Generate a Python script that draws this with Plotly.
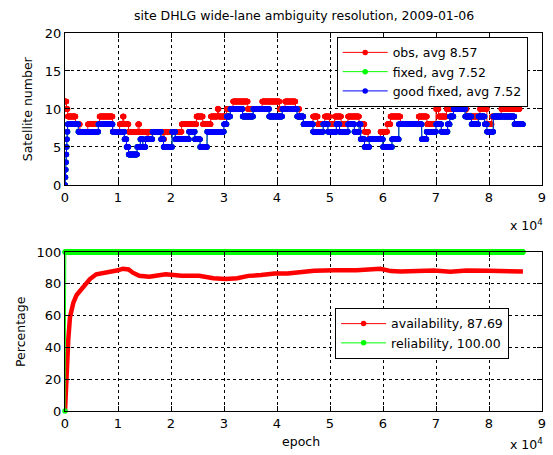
import numpy as np
import plotly.graph_objects as go

# ---------------- data ----------------
# epochs in seconds; step-wise satellite counts given at change points
obs_t = [0, 300, 500, 2000, 2800, 4300, 6500, 9000, 10300, 10900,
         11100, 12000, 13800, 14000, 15500, 15700, 18500, 18700, 22000, 24800,
         26000, 27500, 28800, 29000, 30500, 31700, 34500, 37200, 40500, 41500,
         43500, 44200, 45000, 46800, 47700, 49000, 49900, 50900, 52100, 53400,
         55500, 56500, 57200, 59500, 60800, 61400, 63300, 66700, 68300, 70000,
         70500, 72000, 75800, 78300, 79600, 80500, 82300, 85800]
obs_v = [11, 10, 9, 8, 7, 8, 9, 7, 8, 9,
         8, 7, 8, 7, 6, 7, 6, 7, 8, 9,
         8, 9, 10, 9, 10, 11, 10, 11, 10, 11,
         10, 9, 8, 9, 8, 9, 8, 9, 8, 9,
         8, 7, 6, 7, 8, 9, 8, 9, 8, 10,
         9, 10, 9, 10, 8, 9, 10, 11]

good_t = [0, 60, 120, 180, 240, 300, 360, 420, 500, 2500,
          6300, 9000, 11200, 11600, 12000, 13600, 14200, 14700, 15200, 16500,
          18100, 18600, 20200, 20800, 23400, 24500, 25500, 26800, 30000, 30500,
          31200, 33500, 35500, 38500, 41000, 43800, 45000, 46800, 48700, 49600,
          51200, 51800, 53400, 54600, 55500, 55800, 56500, 57400, 60000, 61700,
          63000, 67300, 68200, 70000, 71000, 72200, 72600, 73300, 75500, 76700,
          78000, 79200, 79600, 80800, 84800]
good_v = [0, 1, 2, 3, 4, 5, 6, 7, 8, 7,
          8, 7, 6, 5, 4, 5, 6, 5, 6, 7,
          6, 5, 7, 6, 7, 6, 5, 7, 8, 9,
          10, 9, 10, 9, 10, 9, 8, 7, 8, 7,
          8, 7, 8, 7, 8, 6, 5, 6, 5, 6,
          8, 6, 7, 8, 7, 8, 9, 10, 9, 8,
          9, 8, 7, 9, 8]
# fixed == good fixed for this site
fixed_t = list(good_t)
fixed_v = list(good_v)

avail_t = [0, 150, 300, 620, 940, 1560, 2200, 3400, 4700, 5900,
           7800, 10000, 10900, 12000, 12800, 14000, 15900, 19000, 22000, 25300,
           28000, 30300, 32500, 34600, 37000, 39600, 42000, 44500, 47000, 50800,
           55000, 59500, 61500, 63300, 66000, 69600, 72700, 73500, 75800, 80000,
           86400]
avail_v = [0, 12, 28, 45, 59, 68, 73, 78, 83, 86,
           87, 88.5, 89.5, 89, 87, 85, 84.5, 86, 85, 85,
           83.5, 83, 83.5, 85, 85.5, 86.5, 86.5, 87.5, 88.2, 88.6,
           88.5, 89.5, 88, 87.8, 88.2, 88.4, 87.6, 87.8, 88.4, 88.2,
           87.7]

rel_first = 0
rel_value = 100

last_epoch = 86400
sample_step = 30

legend_top = ["obs, avg 8.57", "fixed, avg 7.52", "good fixed, avg 7.52"]
legend_bot = ["availability, 87.69", "reliability, 100.00"]
xtick_vals = [0, 10000, 20000, 30000, 40000, 50000, 60000, 70000, 80000, 90000]
xtick_text = ["0", "1", "2", "3", "4", "5", "6", "7", "8", "9"]
title_text = "site DHLG wide-lane ambiguity resolution, 2009-01-06"

# ---------------- build ----------------
epochs = np.arange(0, last_epoch + 1, sample_step)


def expand(t, v):
    idx = np.searchsorted(np.array(t), epochs, side="right") - 1
    return np.array(v)[idx]


RED = "rgb(255,0,0)"
GREEN = "rgb(0,255,0)"
BLUE = "rgb(0,0,255)"
FONT = "DejaVu Sans, Verdana, sans-serif"
FS = 12.5

fig = go.Figure()

for name, t, v, col in [(legend_top[0], obs_t, obs_v, RED),
                        (legend_top[1], fixed_t, fixed_v, GREEN),
                        (legend_top[2], good_t, good_v, BLUE)]:
    fig.add_trace(go.Scatter(
        x=epochs, y=expand(t, v), mode="lines+markers", name=name,
        line=dict(color=col, width=1), marker=dict(color=col, size=5.5),
        xaxis="x", yaxis="y", legend="legend", cliponaxis=True))

# availability: thick curve + legend proxy
fig.add_trace(go.Scatter(
    x=avail_t, y=avail_v, mode="lines", showlegend=False,
    line=dict(color=RED, width=4.5), xaxis="x2", yaxis="y2"))
fig.add_trace(go.Scatter(
    x=[None], y=[None], mode="lines+markers", name=legend_bot[0],
    line=dict(color=RED, width=1), marker=dict(color=RED, size=5.5),
    xaxis="x2", yaxis="y2", legend="legend2"))

rel_y = np.full(epochs.shape, float(rel_value))
rel_y[0] = rel_first
fig.add_trace(go.Scatter(
    x=epochs, y=rel_y, mode="lines+markers", name=legend_bot[1],
    line=dict(color=GREEN, width=1), marker=dict(color=GREEN, size=5.5),
    xaxis="x2", yaxis="y2", legend="legend2", cliponaxis=False))

axis_common = dict(
    showline=True, linecolor="black", linewidth=1, mirror="ticks",
    ticks="inside", ticklen=5, tickcolor="black", tickwidth=1,
    showgrid=True, gridcolor="black", gridwidth=1, griddash="3px,3px",
    zeroline=False, tickfont=dict(family=FONT, size=13, color="black"),
)

fig.update_layout(
    width=553, height=455, autosize=False,
    margin=dict(l=65, r=7, t=33, b=44),
    paper_bgcolor="white", plot_bgcolor="white",
    font=dict(family=FONT, size=FS, color="black"),
    xaxis=dict(domain=[0, 1], anchor="y", range=[0, 90000],
               tickvals=xtick_vals, ticktext=xtick_text, **axis_common),
    yaxis=dict(domain=[0.598, 1], anchor="x", range=[0, 20],
               tickvals=[0, 5, 10, 15, 20], **axis_common),
    xaxis2=dict(domain=[0, 1], anchor="y2", range=[0, 90000],
                tickvals=xtick_vals, ticktext=xtick_text, **axis_common),
    yaxis2=dict(domain=[0, 0.4206], anchor="x2", range=[0, 100],
                tickvals=[0, 20, 40, 60, 80, 100], **axis_common),
    legend=dict(x=0.970, y=0.990, xanchor="right", yanchor="top",
                bgcolor="white", bordercolor="black", borderwidth=1,
                font=dict(family=FONT, size=FS, color="black"),
                tracegroupgap=0, itemwidth=45),
    legend2=dict(x=0.931, y=0.2725, xanchor="right", yanchor="top",
                 bgcolor="white", bordercolor="black", borderwidth=1,
                 font=dict(family=FONT, size=FS, color="black"),
                 tracegroupgap=0, itemwidth=45),
    showlegend=True,
)

ann = [
    dict(text=title_text, x=0.5, y=1.045, xanchor="center", yanchor="middle"),
    dict(text="Satellite number", x=-0.077, y=0.799, textangle=-90,
         xanchor="center", yanchor="middle"),
    dict(text="Percentage", x=-0.0936, y=0.210, textangle=-90,
         xanchor="center", yanchor="middle"),
    dict(text="epoch", x=0.495, y=-0.082, xanchor="center", yanchor="middle"),
    dict(text="x 10<sup>4</sup>", x=0.929, y=0.492, xanchor="left", yanchor="middle"),
    dict(text="x 10<sup>4</sup>", x=0.929, y=-0.0860, xanchor="left", yanchor="middle"),
]
for a in ann:
    fig.add_annotation(xref="paper", yref="paper", showarrow=False,
                       font=dict(family=FONT, size=FS, color="black"), **a)

fig.write_html("out.html")
